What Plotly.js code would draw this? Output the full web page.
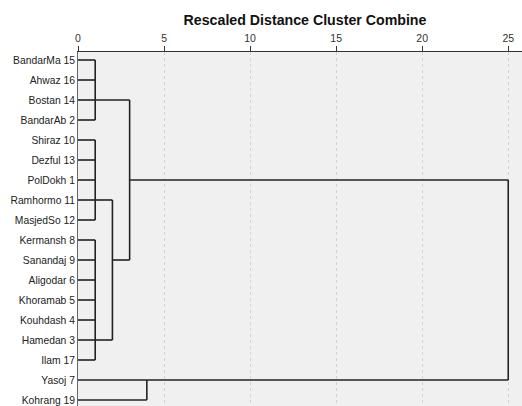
<!DOCTYPE html>
<html>
<head>
<meta charset="utf-8">
<script src="https://cdn.plot.ly/plotly-3.0.1.min.js"></script>
<style>html,body{margin:0;padding:0;background:#fff;}#chart{width:522px;height:406px;}</style>
</head>
<body>
<div id="chart"></div>
<script>
// Leaves (top to bottom)
const leafLabels = ["BandarMa 15","Ahwaz 16","Bostan 14","BandarAb 2","Shiraz 10","Dezful 13","PolDokh 1","Ramhormo 11","MasjedSo 12","Kermansh 8","Sanandaj 9","Aligodar 6","Khoramab 5","Kouhdash 4","Hamedan 3","Ilam 17","Yasoj 7","Kohrang 19"];
// Merges: node ids 0..17 are leaves, 18+ are merges in order
const mergeChildren = [[0,1,2,3],[4,5,6,7,8],[9,10,11,12,13,14,15],[19,20],[18,21],[16,17],[22,23]];
const mergeDistance = [1, 1, 1, 2, 3, 4, 25];
const mergeJoinRow = [2, 7, 14, 10, 6, 16, 6]; // row where each merged cluster's line leaves
const xTicks = [0,5,10,15,20,25];

const nLeaves = leafLabels.length;
const nodeX = [], nodeRow = [];
for (let i=0;i<nLeaves;i++){ nodeX.push(0); nodeRow.push(i); }
const xs = [], ys = [];
mergeChildren.forEach((ch, k) => {
  const d = mergeDistance[k];
  const rows = ch.map(c => nodeRow[c]);
  ch.forEach(c => { xs.push(nodeX[c], d, null); ys.push(nodeRow[c], nodeRow[c], null); });
  xs.push(d, d, null); ys.push(Math.min(...rows), Math.max(...rows), null);
  nodeX.push(d); nodeRow.push(mergeJoinRow[k]);
});

const trace = {x: xs, y: ys, type:'scatter', mode:'lines', line:{color:'#222', width:1.6}, hoverinfo:'skip', showlegend:false, cliponaxis:false};

const layout = {
  width:522, height:406,
  margin:{l:78, r:0, t:52, b:0},
  paper_bgcolor:'#ffffff', plot_bgcolor:'#f0f0f0',
  title:{text:'<b>Rescaled Distance Cluster Combine</b>', font:{family:'Liberation Sans, Arial', size:14.2, color:'#111'}, x:305/522, xanchor:'center', xref:'container', y:1-20.5/406, yanchor:'middle', yref:'container'},
  xaxis:{side:'top', range:[0,25.8], tickvals:xTicks, ticktext:xTicks.map(String), ticks:'outside', ticklen:5, tickcolor:'#333', tickwidth:1,
    showline:true, linecolor:'#333', linewidth:1, showgrid:true, gridcolor:'#d4d4d4', griddash:'3px,3px', gridwidth:1, zeroline:false,
    tickfont:{family:'Liberation Sans, Arial', size:10.5, color:'#333'}, fixedrange:true},
  yaxis:{range:[17.3,-0.4], tickvals:leafLabels.map((_,i)=>i), ticktext:leafLabels, ticks:'', showgrid:false, zeroline:false,
    showline:true, linecolor:'#666', linewidth:1, tickfont:{family:'Liberation Sans, Arial', size:10.3, color:'#222'}, ticklabelstandoff:0, fixedrange:true},
  font:{family:'Liberation Sans, Arial'}
};
Plotly.newPlot('chart', [trace], layout, {displayModeBar:false, staticPlot:true});
</script>
</body>
</html>
